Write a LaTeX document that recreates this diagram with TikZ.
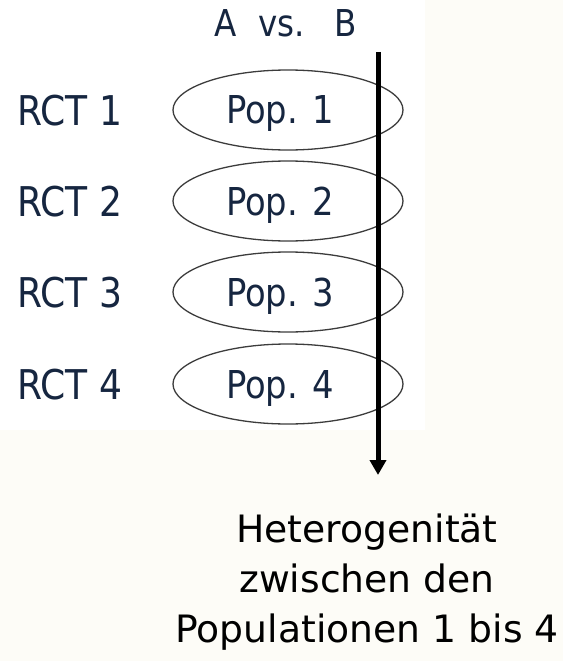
\documentclass[tikz,border=0pt]{standalone}
\usepackage{fontspec}
\setmainfont{DejaVu Sans}
\newfontfamily\labelfont[FakeStretch=0.88]{DejaVu Sans}
\usetikzlibrary{shapes.geometric,arrows.meta}
\definecolor{inkblue}{RGB}{22,38,64}
\definecolor{paper}{RGB}{253,252,247}
\definecolor{rim}{RGB}{60,60,60}
\tikzset{
  rowlabel/.style={anchor=west, inner sep=0pt, text depth=0pt, text=inkblue,
    font=\labelfont\fontsize{41}{49}\selectfont},
  popellipse/.style={ellipse, draw=rim, line width=1.3pt, inner sep=0pt,
    minimum width=230pt, minimum height=80pt, text depth=0pt, text=inkblue,
    font=\labelfont\fontsize{38.4}{46}\selectfont},
  headlabel/.style={inner sep=0pt, text depth=0pt, text=inkblue,
    font=\labelfont\fontsize{37}{44}\selectfont},
  flowarrow/.style={line width=5pt, -{Triangle[width=16pt,length=15pt]}},
  resulttext/.style={align=center, inner sep=0pt, text=black,
    font=\fontsize{37.7}{50}\selectfont}
}
\begin{document}
\begin{tikzpicture}[x=1pt,y=-1pt]
  % page: white panel top left, cream paper elsewhere
  \fill[paper] (0,0) rectangle (563,661);
  \fill[white] (0,0) rectangle (425,430);
  \useasboundingbox (0,0) rectangle (563,661);

  \node[headlabel] (ab) at (286,23) {A\hspace{21pt}vs.\hspace{30pt}B};

  \foreach \i/\y in {1/110,2/201,3/292,4/384}{
    \node[rowlabel] (rct\i) at (17,\y) {RCT \i};
    \node[popellipse] (pop\i) at (288,\y) {\hspace*{-16pt}Pop. \i};
  }

  \coordinate (arrtop) at (378,52);
  \coordinate (arrend) at (378,475);
  \draw[flowarrow] (arrtop) -- (arrend);

  \node[resulttext, anchor=south] (result) at (367,651)
    {Heterogenität\\zwischen den\\Populationen 1 bis 4};
\end{tikzpicture}
\end{document}
